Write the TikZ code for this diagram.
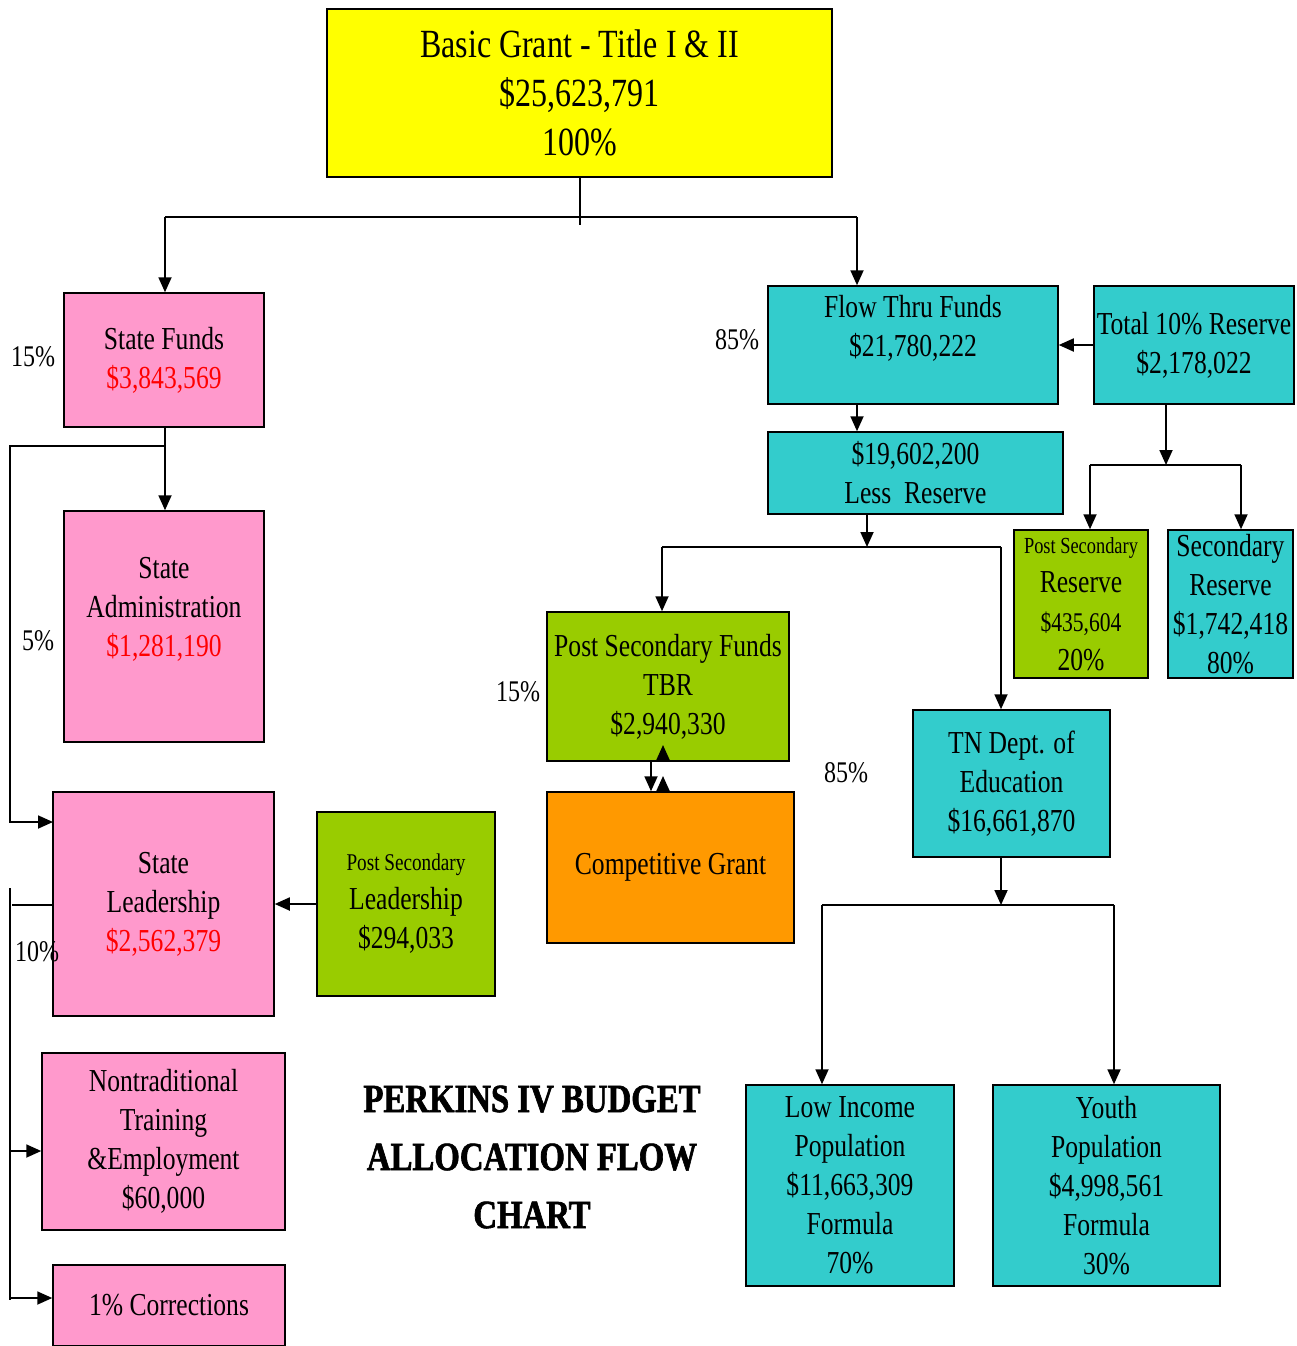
\documentclass[tikz,border=0pt]{standalone}
\usepackage{fontspec}
\setmainfont{Liberation Serif}[FakeStretch=0.8]
\newfontfamily\headfont{Liberation Serif}[FakeStretch=0.82, BoldFeatures={FakeBold=1.6}]
\usetikzlibrary{arrows.meta,calc}
\definecolor{grantyellow}{RGB}{255,255,0}
\definecolor{statepink}{RGB}{255,153,204}
\definecolor{flowteal}{RGB}{51,204,204}
\definecolor{psgreen}{RGB}{153,204,0}
\definecolor{comporange}{RGB}{255,153,0}
\newcommand{\setsz}[2]{\fontsize{#1}{#2}\selectfont}
\newcommand{\rd}[1]{\textcolor{red}{#1}}
\tikzset{
  box/.style={draw=black, line width=1.5pt, align=center, inner sep=0pt,
    font=\setsz{32}{39}},
  wire/.style={line width=1.8pt},
  arr/.style={line width=1.8pt, -{Triangle[length=15pt,width=13pt]}},
  pct/.style={font=\setsz{30}{36}, inner sep=0pt},
}
\begin{document}
\begin{tikzpicture}[x=1pt, y=-1pt]
\useasboundingbox (0,0) rectangle (1296,1346);

% ---- boxes ----
\node[box, fill=grantyellow, minimum width=505pt, minimum height=168pt,
  font=\setsz{40}{49}] (grant) at (579.5,93)
  {Basic Grant - Title I \& II\\ \$25,623,791\\ 100\%};

\node[box, fill=statepink, minimum width=200pt, minimum height=134pt] (sf) at (164,360)
  {State Funds\\ \rd{\$3,843,569}};
\node[box, fill=statepink, minimum width=200pt, minimum height=231pt] (sa) at (164,626.5)
  {State\\ Administration\\ \rd{\$1,281,190}\\ \mbox{}};
\node[box, fill=statepink, minimum width=221pt, minimum height=224pt] (sl) at (163.5,904)
  {State\\ Leadership\\ \rd{\$2,562,379}};
\node[box, fill=statepink, minimum width=243pt, minimum height=177pt] (nt) at (163.5,1141.5)
  {Nontraditional\\ Training\\ \&Employment\\ \$60,000};
\node[box, fill=statepink, minimum width=232pt, minimum height=81pt] (cor) at (169,1305.5)
  {1\% Corrections};

\node[box, fill=psgreen, minimum width=178pt, minimum height=184pt] (psl) at (406,904)
  {{\setsz{24}{36}Post Secondary}\\ Leadership\\ \$294,033};

\node[box, fill=flowteal, minimum width=290pt, minimum height=118pt] (flow) at (913,345)
  {Flow Thru Funds\\ \$21,780,222\\ \mbox{}};
\node[box, fill=flowteal, minimum width=200pt, minimum height=118pt] (tot) at (1194,345)
  {Total 10\% Reserve\\ \$2,178,022};
\node[box, fill=flowteal, minimum width=295pt, minimum height=82pt] (less) at (915.5,473)
  {\$19,602,200\\ Less\ \ Reserve};

\node[box, fill=psgreen, minimum width=134pt, minimum height=148pt] (psr) at (1081,604)
  {{\setsz{23}{34}Post Secondary}\\ Reserve\\ {\setsz{27}{36}\$435,604}\\ 20\%};
\node[box, fill=flowteal, minimum width=125pt, minimum height=148pt] (secr) at (1230.5,604)
  {Secondary\\ Reserve\\ \$1,742,418\\ 80\%};

\node[box, fill=psgreen, minimum width=242pt, minimum height=149pt] (psf) at (668,686.5)
  {Post Secondary Funds\\ TBR\\ \$2,940,330};
\node[box, fill=comporange, minimum width=247pt, minimum height=151pt] (comp) at (670.5,867.5)
  {Competitive Grant};

\node[box, fill=flowteal, minimum width=197pt, minimum height=147pt] (tn) at (1011.5,783.5)
  {TN Dept. of\\ Education\\ \$16,661,870};

\node[box, fill=flowteal, minimum width=208pt, minimum height=201pt] (low) at (850,1185.5)
  {Low Income\\ Population\\ \$11,663,309\\ Formula\\ 70\%};
\node[box, fill=flowteal, minimum width=227pt, minimum height=201pt] (youth) at (1106.5,1185.5)
  {Youth\\ Population\\ \$4,998,561\\ Formula\\ 30\%};

% ---- title ----
\node[align=center, inner sep=0pt, font=\headfont\bfseries\setsz{40}{58}] (title) at (532,1157)
  {PERKINS IV BUDGET\\ ALLOCATION FLOW\\ CHART};

% ---- percentage labels ----
\node[pct] (p15a) at (33,357) {15\%};
\node[pct] (p5)   at (38,641) {5\%};
\node[pct] (p10)  at (37,952) {10\%};
\node[pct] (p85a) at (737,340) {85\%};
\node[pct] (p15b) at (518,692) {15\%};
\node[pct] (p85b) at (846,773) {85\%};

% ---- branch points ----
\coordinate (gstub) at (580,225);
\coordinate (jL) at (165,217);
\coordinate (jR) at (857,217);
\coordinate (sfb) at (165,446);
\coordinate (lt) at (10,446);
\coordinate (slin) at (53,822);
\coordinate (lv2t) at (10,888);
\coordinate (lv2b) at (10,1300);
\coordinate (slstub) at (12,905);
\coordinate (ntin) at (10,1151);
\coordinate (corin) at (10,1298);
\coordinate (totb) at (1166,404);
\coordinate (rj) at (1166,465);
\coordinate (rjL) at (1090,465);
\coordinate (rjR) at (1241,465);
\coordinate (lessb) at (867,514);
\coordinate (lj) at (867,547);
\coordinate (ljL) at (662,547);
\coordinate (ljR) at (1001,547);
\coordinate (dn1) at (651,761);
\coordinate (up1) at (663,792);
\coordinate (up1t) at (663,776);
\coordinate (up2) at (663,761);
\coordinate (up2t) at (663,745);
\coordinate (tnb) at (1001,857);
\coordinate (tj) at (1001,905);
\coordinate (tjL) at (822,905);
\coordinate (tjR) at (1114,905);

% ---- connectors ----
\draw[wire] (grant.south -| gstub) -- (gstub);
\draw[wire] (jL) -- (jR);
\draw[arr] (jL) -- (jL |- sf.north);
\draw[arr] (jR) -- (jR |- flow.north);

\draw[arr] (sf.south -| sfb) -- (sfb |- sa.north);
\draw[arr] (sfb) -- (lt) |- (slin);
\draw[wire] (lv2t) -- (lv2b);
\draw[wire] (slstub) -- (slstub -| sl.west);
\draw[arr] (ntin) -- (ntin -| nt.west);
\draw[arr] (corin) -- (corin -| cor.west);
\draw[arr] (psl.west) -- (sl.east);

\draw[arr] (tot.west) -- (flow.east);
\draw[arr] (jR |- flow.south) -- (jR |- less.north);
\draw[arr] (totb) -- (rj);
\draw[wire] (rjL) -- (rjR);
\draw[arr] (rjL) -- (rjL |- psr.north);
\draw[arr] (rjR) -- (rjR |- secr.north);

\draw[arr] (lessb) -- (lj);
\draw[wire] (ljL) -- (ljR);
\draw[arr] (ljL) -- (ljL |- psf.north);
\draw[arr] (ljR) -- (ljR |- tn.north);

\draw[arr] (dn1) -- (dn1 |- comp.north);
\draw[arr] (up1) -- (up1t);
\draw[arr] (up2) -- (up2t);

\draw[arr] (tnb) -- (tj);
\draw[wire] (tjL) -- (tjR);
\draw[arr] (tjL) -- (tjL |- low.north);
\draw[arr] (tjR) -- (tjR |- youth.north);
\end{tikzpicture}
\end{document}
